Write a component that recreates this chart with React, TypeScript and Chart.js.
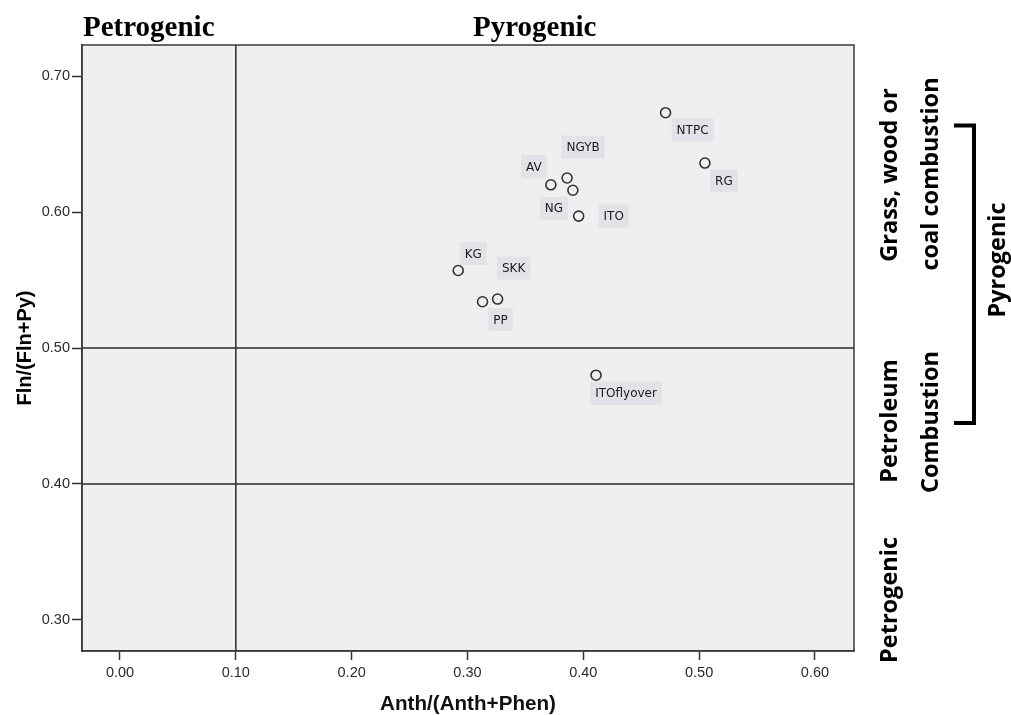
import React, { useEffect, useRef } from "react";
import { Chart, registerables } from "chart.js";

Chart.register(...registerables);

// ---- data ----
const siteNames = ["NTPC", "RG", "NGYB", "AV", "NG", "ITO", "KG", "SKK", "PP", "ITOflyover"];
const anthRatio = [0.471, 0.505, 0.386, 0.372, 0.391, 0.396, 0.292, 0.326, 0.313, 0.411];
const flnRatio = [0.673, 0.636, 0.625, 0.62, 0.616, 0.597, 0.557, 0.536, 0.534, 0.48];
const xTickValues = [0.0, 0.1, 0.2, 0.3, 0.4, 0.5, 0.6];
const yTickValues = [0.3, 0.4, 0.5, 0.6, 0.7];
const verticalRefLines = [0.1];
const horizontalRefLines = [0.5, 0.4];

// label placement relative to each point (pixels)
const labelOffsets: [number, number][] = [
  [27, 17], [19, 18], [16, -31], [-17, -18], [-19, 18],
  [35, 0], [15, -17], [16, -31], [18, 18], [30, 18],
];

const SANS = "'Liberation Sans', Arial, sans-serif";
const SIDE = "'Open Sans', sans-serif";
const SIDE_SIZE = 23.5;

function fitSize(ctx: CanvasRenderingContext2D, text: string, family: string, weight: string, target: number) {
  ctx.font = `${weight} 100px ${family}`;
  const w = ctx.measureText(text).width;
  return (100 * target) / w;
}

function drawRotated(ctx: CanvasRenderingContext2D, text: string, baseX: number, centerY: number, font: string) {
  ctx.save();
  ctx.font = font;
  ctx.translate(baseX, centerY);
  ctx.rotate(-Math.PI / 2);
  ctx.textAlign = "center";
  ctx.textBaseline = "alphabetic";
  ctx.fillStyle = "#000";
  ctx.fillText(text, 0, 0);
  ctx.restore();
}

const decorPlugin = {
  id: "decor",
  beforeDraw(chart: any) {
    const { ctx, chartArea: a } = chart;
    ctx.save();
    ctx.fillStyle = "#efefef";
    ctx.fillRect(a.left, a.top, a.right - a.left, a.bottom - a.top);
    ctx.restore();
  },
  beforeDatasetsDraw(chart: any) {
    const { ctx, chartArea: a, scales } = chart;
    ctx.save();
    ctx.strokeStyle = "#2a2a2a";
    ctx.lineWidth = 1.5;
    verticalRefLines.forEach((v) => {
      const px = scales.x.getPixelForValue(v);
      ctx.beginPath();
      ctx.moveTo(px, a.top);
      ctx.lineTo(px, a.bottom);
      ctx.stroke();
    });
    horizontalRefLines.forEach((v) => {
      const py = scales.y.getPixelForValue(v);
      ctx.beginPath();
      ctx.moveTo(a.left, py);
      ctx.lineTo(a.right, py);
      ctx.stroke();
    });
    ctx.strokeStyle = "#3a3a3a";
    ctx.strokeRect(a.left, a.top, a.right - a.left, a.bottom - a.top);
    ctx.restore();
  },
  afterDatasetsDraw(chart: any) {
    const { ctx } = chart;
    const meta = chart.getDatasetMeta(0);
    ctx.save();
    ctx.font = `12px 'DejaVu Sans', sans-serif`;
    ctx.textAlign = "center";
    ctx.textBaseline = "middle";
    meta.data.forEach((pt: any, i: number) => {
      const [dx, dy] = labelOffsets[i];
      const cx = pt.x + dx;
      const cy = pt.y + dy;
      const w = ctx.measureText(siteNames[i]).width + 10;
      const h = 23;
      ctx.fillStyle = "#e2e2e9";
      ctx.fillRect(cx - w / 2, cy - h / 2, w, h);
      ctx.fillStyle = "#1a1a1a";
      ctx.fillText(siteNames[i], cx, cy + 1);
    });
    ctx.restore();
  },
  afterDraw(chart: any) {
    const { ctx } = chart;
    ctx.save();
    // top titles
    ctx.fillStyle = "#000";
    ctx.font = `bold 29px 'Liberation Serif', 'Times New Roman', serif`;
    ctx.textAlign = "left";
    ctx.textBaseline = "alphabetic";
    ctx.fillText("Petrogenic", 83, 36);
    ctx.fillText("Pyrogenic", 473, 36);

    // axis titles
    const xs = fitSize(ctx, "Anth/(Anth+Phen)", SANS, "bold", 176);
    ctx.font = `bold ${xs}px ${SANS}`;
    ctx.textAlign = "center";
    ctx.fillStyle = "#111";
    ctx.fillText("Anth/(Anth+Phen)", 468, 710);
    const ys = fitSize(ctx, "Fln/(Fln+Py)", SANS, "bold", 115);
    drawRotated(ctx, "Fln/(Fln+Py)", 31, 348, `bold ${ys}px ${SANS}`);

    // right-side annotations
    const sf = `bold ${SIDE_SIZE}px ${SIDE}`;
    drawRotated(ctx, "Grass, wood or", 897, 175, sf);
    drawRotated(ctx, "coal combustion", 938, 174, sf);
    drawRotated(ctx, "Pyrogenic", 1005, 260, sf);
    drawRotated(ctx, "Petroleum", 897, 421, sf);
    drawRotated(ctx, "Combustion", 938, 422, sf);
    drawRotated(ctx, "Petrogenic", 897, 600, sf);

    // bracket
    ctx.strokeStyle = "#000";
    ctx.lineWidth = 4;
    ctx.lineCap = "butt";
    ctx.beginPath();
    ctx.moveTo(954, 125.5);
    ctx.lineTo(974, 125.5);
    ctx.lineTo(974, 423);
    ctx.lineTo(954, 423);
    ctx.stroke();
    ctx.restore();
  },
};

export default function App() {
  const canvasRef = useRef<HTMLCanvasElement | null>(null);

  useEffect(() => {
    if (!canvasRef.current) return;
    const tickFont = { family: SANS, size: 14.5 };
    const chart = new Chart(canvasRef.current, {
      type: "scatter",
      data: {
        datasets: [
          {
            label: "sites",
            data: anthRatio.map((x, i) => ({ x, y: flnRatio[i] })),
            pointRadius: 5,
            pointHoverRadius: 5,
            borderWidth: 1.6,
            borderColor: "#333",
            backgroundColor: "rgba(0,0,0,0)",
          },
        ],
      },
      options: {
        animation: false,
        responsive: true,
        maintainAspectRatio: false,
        layout: { padding: { top: 45, right: 157, left: 0, bottom: 0 } },
        plugins: { legend: { display: false }, tooltip: { enabled: false }, title: { display: false } },
        scales: {
          x: {
            type: "linear",
            min: -0.0328,
            max: 0.6337,
            afterBuildTicks: (s: any) => {
              s.ticks = xTickValues.map((v) => ({ value: v }));
            },
            afterFit: (s: any) => {
              s.height = 64;
            },
            ticks: {
              font: tickFont,
              color: "#2b2b2b",
              padding: 4,
              maxRotation: 0,
              autoSkip: false,
              callback: (v: any) => Number(v).toFixed(2),
            },
            grid: { drawOnChartArea: false, drawTicks: true, tickLength: 9, tickColor: "#333", tickWidth: 1.5 },
            border: { display: true, color: "#3a3a3a", width: 1.5 },
          },
          y: {
            type: "linear",
            min: 0.2772,
            max: 0.7228,
            afterBuildTicks: (s: any) => {
              s.ticks = yTickValues.map((v) => ({ value: v }));
            },
            afterFit: (s: any) => {
              s.width = 82;
            },
            ticks: {
              font: tickFont,
              color: "#2b2b2b",
              padding: 2,
              autoSkip: false,
              callback: (v: any) => Number(v).toFixed(2),
            },
            grid: { drawOnChartArea: false, drawTicks: true, tickLength: 10, tickColor: "#333", tickWidth: 1.5 },
            border: { display: true, color: "#3a3a3a", width: 1.5 },
          },
        },
      },
      plugins: [decorPlugin],
    } as any);
    return () => chart.destroy();
  }, []);

  return (
    <div style={{ position: "fixed", left: 0, top: 0, width: 1011, height: 715, background: "#fff" }}>
      <canvas ref={canvasRef} />
    </div>
  );
}
